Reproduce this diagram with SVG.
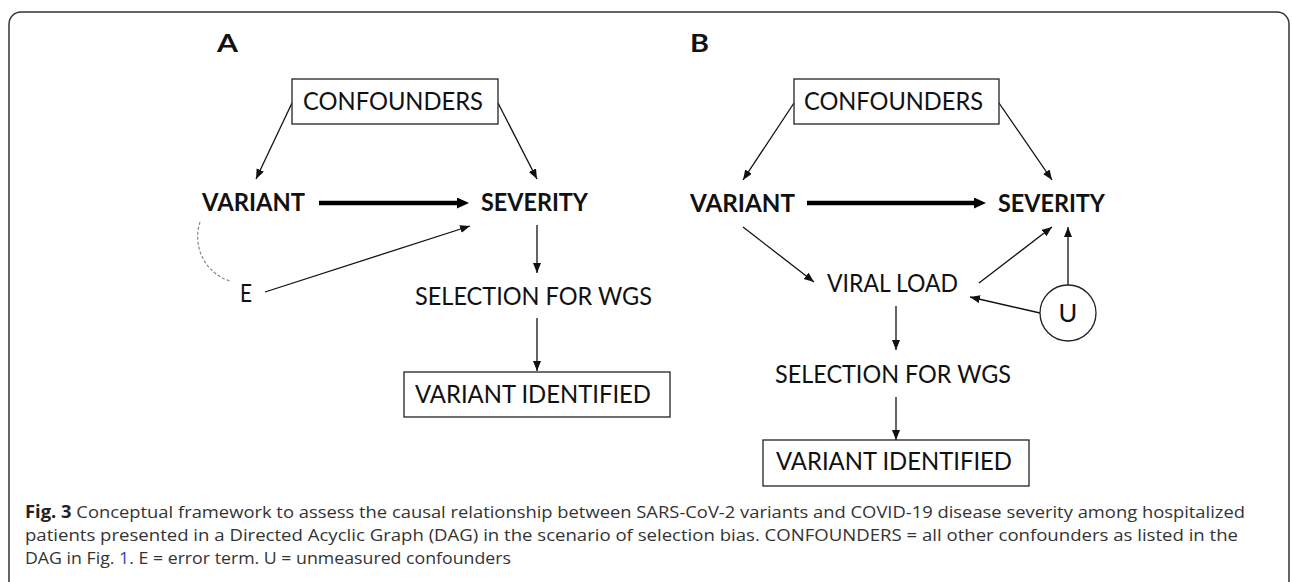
<svg xmlns="http://www.w3.org/2000/svg" width="1292" height="582" viewBox="0 0 1292 582">
<defs>
<style>
.t{font-family:Lato,"Open Sans","Liberation Sans",sans-serif;font-size:25.5px;fill:#111}
.b{font-weight:bold}
.box{fill:#fff;stroke:#222;stroke-width:1.3}
.ln{stroke:#111;stroke-width:1.3;fill:none}
.thick{stroke:#000;stroke-width:4.5;fill:none}
.cap{font-family:"Open Sans","Liberation Sans",sans-serif;font-size:17px;fill:#333}
</style>
<marker id="ah" markerUnits="userSpaceOnUse" markerWidth="11" markerHeight="9" refX="10" refY="4" orient="auto">
<path d="M0,0 L10,4 L0,8 z" fill="#111"/>
</marker>
<marker id="ahT" markerUnits="userSpaceOnUse" markerWidth="13" markerHeight="12" refX="0" refY="5.5" orient="auto">
<path d="M0,0 L12,5.5 L0,11 z" fill="#000"/>
</marker>
</defs>
<rect width="1292" height="582" fill="#fff"/>
<rect x="9" y="12" width="1280" height="640" rx="12" fill="none" stroke="#333" stroke-width="1.5"/>

<text class="t b" x="217" y="52" font-size="28" textLength="21" lengthAdjust="spacingAndGlyphs">A</text>
<text class="t b" x="690" y="52" font-size="28" textLength="19" lengthAdjust="spacingAndGlyphs">B</text>

<g id="connectors">
<line class="ln" x1="292" y1="103" x2="256" y2="179" marker-end="url(#ah)"/>
<line class="ln" x1="498" y1="103" x2="537" y2="179" marker-end="url(#ah)"/>
<line class="thick" x1="319" y1="203" x2="457" y2="203" marker-end="url(#ahT)"/>
<line class="ln" x1="537" y1="225" x2="537" y2="273" marker-end="url(#ah)"/>
<line class="ln" x1="537" y1="318" x2="537" y2="371" marker-end="url(#ah)"/>
<line class="ln" x1="265" y1="292" x2="470" y2="226" marker-end="url(#ah)"/>
<path d="M200,222 C192,247 205,273 230,281" fill="none" stroke="#888" stroke-width="1.2" stroke-dasharray="3,2"/>

<line class="ln" x1="794" y1="103" x2="743" y2="180" marker-end="url(#ah)"/>
<line class="ln" x1="999" y1="103" x2="1052" y2="180" marker-end="url(#ah)"/>
<line class="thick" x1="807" y1="203" x2="974" y2="203" marker-end="url(#ahT)"/>
<line class="ln" x1="743" y1="227" x2="814" y2="282" marker-end="url(#ah)"/>
<line class="ln" x1="979" y1="283" x2="1052" y2="227" marker-end="url(#ah)"/>
<line class="ln" x1="1068" y1="286" x2="1068" y2="227" marker-end="url(#ah)"/>
<line class="ln" x1="1040" y1="313" x2="970" y2="297" marker-end="url(#ah)"/>
<line class="ln" x1="896" y1="306" x2="896" y2="350" marker-end="url(#ah)"/>
<line class="ln" x1="896" y1="397" x2="896" y2="440" marker-end="url(#ah)"/>
</g>

<g id="a-confounders">
<rect class="box" x="292" y="79" width="206" height="45"/>
<text class="t" x="303" y="110" textLength="180" lengthAdjust="spacingAndGlyphs">CONFOUNDERS</text>
</g>
<g id="a-variant"><text class="t b" x="202" y="211" textLength="103" lengthAdjust="spacingAndGlyphs">VARIANT</text></g>
<g id="a-severity"><text class="t b" x="481" y="211" textLength="107" lengthAdjust="spacingAndGlyphs">SEVERITY</text></g>
<g id="a-e"><text class="t" x="240" y="302" textLength="12" lengthAdjust="spacingAndGlyphs">E</text></g>
<g id="a-selection"><text class="t" x="415" y="305" textLength="237" lengthAdjust="spacingAndGlyphs">SELECTION FOR WGS</text></g>
<g id="a-identified">
<rect class="box" x="404" y="372" width="266" height="45"/>
<text class="t" x="415" y="403" textLength="236" lengthAdjust="spacingAndGlyphs">VARIANT IDENTIFIED</text>
</g>

<g id="b-confounders">
<rect class="box" x="794" y="79" width="205" height="45"/>
<text class="t" x="804" y="110" textLength="179" lengthAdjust="spacingAndGlyphs">CONFOUNDERS</text>
</g>
<g id="b-variant"><text class="t b" x="690" y="212" textLength="105" lengthAdjust="spacingAndGlyphs">VARIANT</text></g>
<g id="b-severity"><text class="t b" x="998" y="212" textLength="107" lengthAdjust="spacingAndGlyphs">SEVERITY</text></g>
<g id="b-viral"><text class="t" x="827" y="292" textLength="131" lengthAdjust="spacingAndGlyphs">VIRAL LOAD</text></g>
<g id="b-u">
<circle cx="1068" cy="313" r="28" fill="#fff" stroke="#222" stroke-width="1.3"/>
<text class="t" x="1068" y="322" text-anchor="middle">U</text>
</g>
<g id="b-selection"><text class="t" x="775" y="383" textLength="236" lengthAdjust="spacingAndGlyphs">SELECTION FOR WGS</text></g>
<g id="b-identified">
<rect class="box" x="763" y="440" width="266" height="46"/>
<text class="t" x="776" y="470" textLength="236" lengthAdjust="spacingAndGlyphs">VARIANT IDENTIFIED</text>
</g>

<g id="caption">
<text class="cap" x="25" y="518" textLength="1220" lengthAdjust="spacingAndGlyphs"><tspan font-weight="bold" fill="#222">Fig. 3</tspan> Conceptual framework to assess the causal relationship between SARS-CoV-2 variants and COVID-19 disease severity among hospitalized</text>
<text class="cap" x="25" y="541" textLength="1213" lengthAdjust="spacingAndGlyphs">patients presented in a Directed Acyclic Graph (DAG) in the scenario of selection bias. CONFOUNDERS = all other confounders as listed in the</text>
<text class="cap" x="25" y="564" textLength="486" lengthAdjust="spacingAndGlyphs">DAG in Fig. <tspan fill="#3344bb">1</tspan>. E = error term. U = unmeasured confounders</text>
</g>
</svg>
